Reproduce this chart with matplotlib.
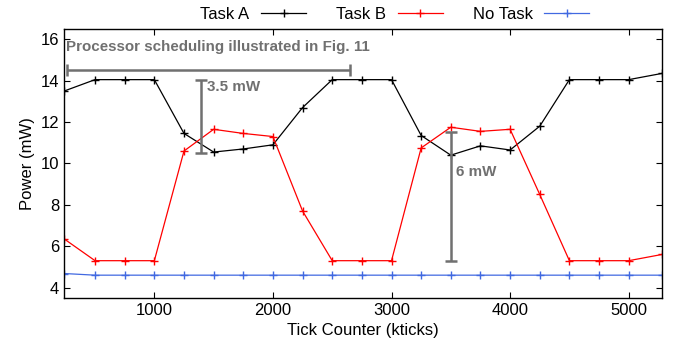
import numpy as np
import matplotlib
matplotlib.use("Agg")
import matplotlib.pyplot as plt

plt.rcParams['font.family'] = ['Liberation Sans', 'DejaVu Sans']

# tick counter samples (kticks)
ticks = [240] + list(range(500, 5001, 250)) + [5280]

task_a = [13.5, 14.05, 14.05, 14.05, 11.45, 10.55, 10.7, 10.9, 12.7, 14.05, 14.05,
          14.05, 11.35, 10.4, 10.85, 10.65, 11.8, 14.05, 14.05, 14.05, 14.35]
task_b = [6.35, 5.3, 5.3, 5.3, 10.6, 11.65, 11.45, 11.3, 7.7, 5.3, 5.3,
          5.3, 10.75, 11.75, 11.55, 11.65, 8.5, 5.3, 5.3, 5.3, 5.6]
no_task = [4.68] + [4.6] * 20

fig = plt.figure(figsize=(6.76, 3.53), dpi=100)
ax = fig.add_axes([0.095, 0.156, 0.885, 0.762])

ax.plot(ticks, task_a, color='black', marker='+', markersize=6, linewidth=0.9, label='Task A')
ax.plot(ticks, task_b, color='red', marker='+', markersize=6, linewidth=0.9, label='Task B')
ax.plot(ticks, no_task, color='#4169e1', marker='+', markersize=6, linewidth=0.9, label='No Task')

ax.set_xlim(240, 5285)
ax.set_ylim(3.5, 16.5)
ax.set_xticks([1000, 2000, 3000, 4000, 5000])
ax.set_yticks([4, 6, 8, 10, 12, 14, 16])
ax.tick_params(direction='in', top=True, right=True, labelsize=12, length=4)
for s in ax.spines.values():
    s.set_linewidth(1.0)

ax.set_xlabel('Tick Counter (kticks)', fontsize=12)
ax.set_ylabel('Power (mW)', fontsize=12)

gray = '#707070'
note = dict(color=gray, fontsize=10.9, fontweight='bold', va='center')
ax.text(255, 15.62, 'Processor scheduling illustrated in Fig. 11', **note)
# scheduling span
ax.errorbar([1455], [14.5], xerr=[[1195], [1195]], color=gray, capsize=4, linewidth=1.8, capthick=1.8)
# 3.5 mW gap
ax.errorbar([1390], [12.27], yerr=[[1.77], [1.77]], color=gray, capsize=4, linewidth=1.8, capthick=1.8)
ax.text(1440, 13.68, '3.5 mW', **note)
# 6 mW gap
ax.errorbar([3500], [8.4], yerr=[[3.1], [3.1]], color=gray, capsize=4, linewidth=1.8, capthick=1.8)
ax.text(3540, 9.6, '6 mW', **note)

fig.legend(loc='center', bbox_to_anchor=(0.584, 0.958), ncol=3, frameon=False,
           markerfirst=False, fontsize=12, handlelength=2.7, columnspacing=1.8,
           handletextpad=0.7)

fig.savefig('out.png', dpi=100)
